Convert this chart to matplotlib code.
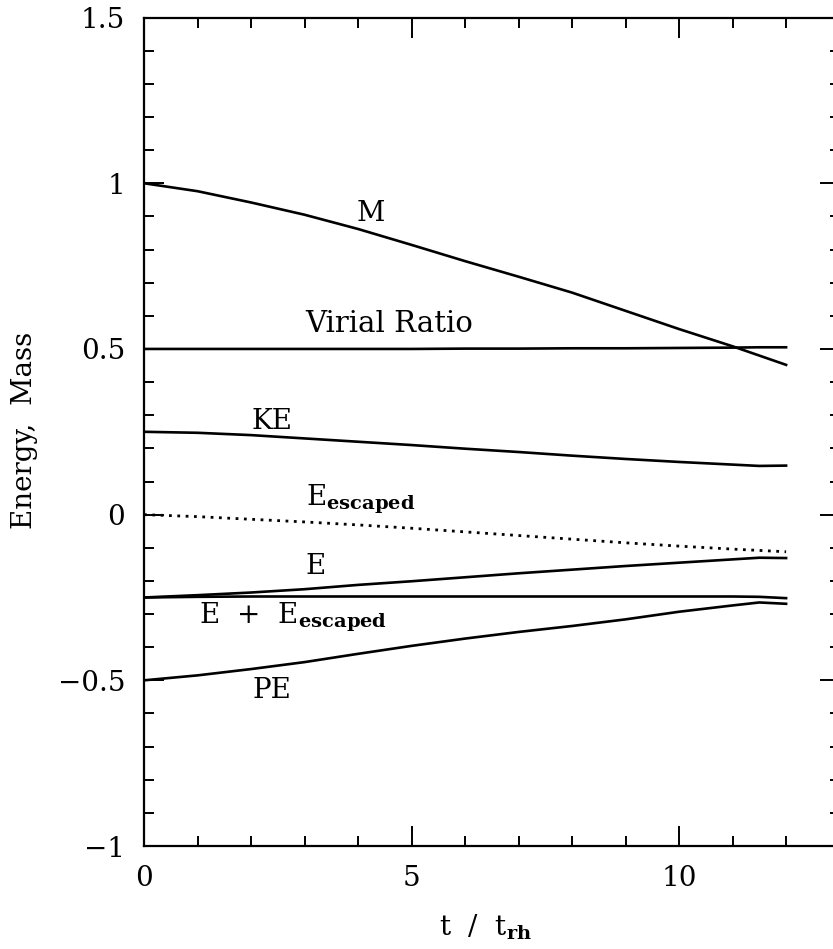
import numpy as np
import matplotlib.pyplot as plt
from matplotlib.ticker import MultipleLocator, FixedLocator, FixedFormatter

plt.rcParams['font.family'] = ['DejaVu Serif']
plt.rcParams['mathtext.fontset'] = 'dejavuserif'

# -------------------------
# Data
# -------------------------
t = [0, 1, 2, 3, 4, 5, 6, 7, 8, 9, 10, 11, 11.5, 12]

mass = [1.0, 0.976, 0.942, 0.905, 0.862, 0.814, 0.765, 0.718, 0.670, 0.615,
        0.560, 0.508, 0.480, 0.452]
virial = [0.5, 0.5, 0.5, 0.5, 0.5, 0.5, 0.501, 0.501, 0.502, 0.502,
          0.503, 0.504, 0.505, 0.505]
ke = [0.25, 0.247, 0.240, 0.230, 0.220, 0.210, 0.199, 0.189, 0.178, 0.168,
      0.159, 0.151, 0.147, 0.148]
e_esc = [0.0, -0.006, -0.014, -0.022, -0.031, -0.041, -0.052, -0.063, -0.074,
         -0.085, -0.095, -0.104, -0.108, -0.112]
energy = [-0.25, -0.243, -0.235, -0.225, -0.212, -0.201, -0.189, -0.177, -0.166,
          -0.155, -0.145, -0.135, -0.130, -0.131]
e_total = [-0.25, -0.248, -0.247, -0.247, -0.247, -0.247, -0.247, -0.247, -0.247,
           -0.247, -0.247, -0.247, -0.248, -0.252]
pe = [-0.5, -0.485, -0.466, -0.445, -0.420, -0.396, -0.374, -0.354, -0.336,
      -0.316, -0.293, -0.274, -0.265, -0.269]

xticks = [0, 5, 10]
xtick_labels = ["0", "5", "10"]
yticks = [-1, -0.5, 0, 0.5, 1, 1.5]
ytick_labels = ["\u22121", "\u22120.5", "0", "0.5", "1", "1.5"]

# -------------------------
# Figure
# -------------------------
fig = plt.figure(figsize=(8.33, 9.49), dpi=100)
ax = fig.add_axes([0.1729, 0.1085, 0.835, 0.873])

lw = 1.9
ax.plot(t, mass, color='black', lw=lw)
ax.plot(t, virial, color='black', lw=lw)
ax.plot(t, ke, color='black', lw=lw)
ax.plot(t, e_esc, color='black', lw=2.0, linestyle=(0, (1, 2.0)))
ax.plot(t, energy, color='black', lw=lw)
ax.plot(t, e_total, color='black', lw=lw)
ax.plot(t, pe, color='black', lw=lw)

ax.set_xlim(0, 13)
ax.set_ylim(-1, 1.5)

# curve labels
fs = 20
ax.text(4.24, 0.909, "M", fontsize=fs, ha='center', va='center')
ax.text(3.01, 0.55, "Virial Ratio", fontsize=21, ha='left', va='baseline')
ax.text(2.39, 0.281, "KE", fontsize=fs, ha='center', va='center')
ax.text(3.03, 0.028, r"E$_{\mathbf{escaped}}$", fontsize=fs, ha='left', va='baseline')
ax.text(3.2, -0.178, "E", fontsize=fs, ha='center', va='baseline')
ax.text(1.02, -0.329, r"E  +  E$_{\mathbf{escaped}}$", fontsize=fs, ha='left', va='baseline')
ax.text(2.40, -0.553, "PE", fontsize=fs, ha='center', va='baseline')

# -------------------------
# Axes / ticks
# -------------------------
ax.xaxis.set_major_locator(FixedLocator(xticks))
ax.xaxis.set_major_formatter(FixedFormatter(xtick_labels))
ax.xaxis.set_minor_locator(MultipleLocator(1))
ax.yaxis.set_major_locator(FixedLocator(yticks))
ax.yaxis.set_major_formatter(FixedFormatter(ytick_labels))
ax.yaxis.set_minor_locator(MultipleLocator(0.1))

ax.tick_params(which='both', direction='in', top=True, right=True, width=1.4)
ax.tick_params(which='major', length=14.4, labelsize=20, pad=13.5)
ax.tick_params(which='minor', length=7.2)
for s in ax.spines.values():
    s.set_linewidth(1.6)

fig.text(25 / 833, 1 - 430 / 949, "Energy,  Mass", fontsize=20, rotation=90,
         ha='center', va='center')
fig.text(486 / 833, 1 - 927 / 949, r"t  /  t$_{\mathbf{rh}}$", fontsize=20,
         ha='center', va='center')

fig.savefig("out.png", dpi=100)
